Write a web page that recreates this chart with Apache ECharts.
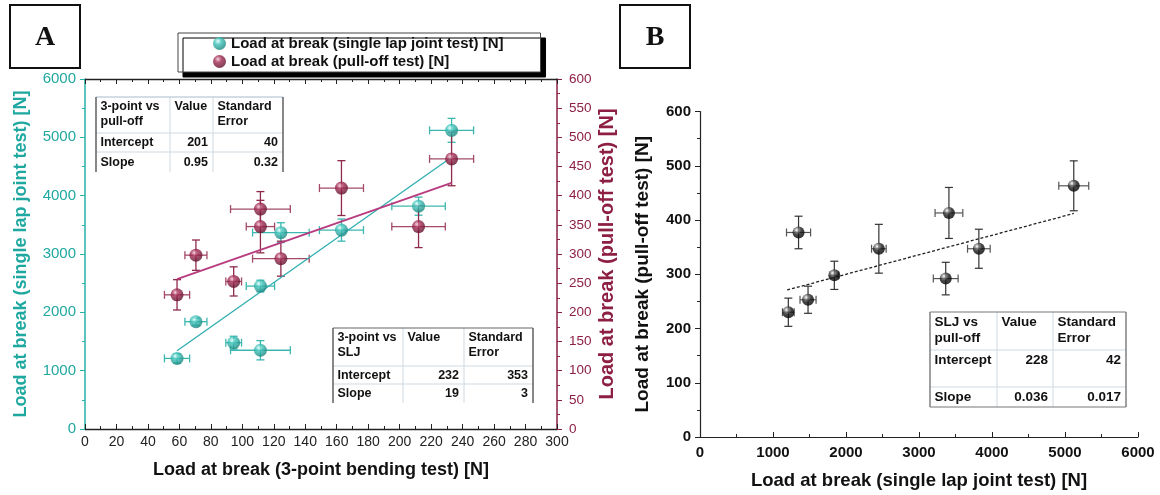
<!DOCTYPE html>
<html><head><meta charset="utf-8">
<script src="https://cdn.jsdelivr.net/npm/echarts@6/dist/echarts.min.js"></script>
<style>html,body{margin:0;padding:0;background:#fff}#c{width:1160px;height:495px}</style>
</head><body><div id="c"></div>
<script>
// ---------- data ----------
const bendingLoad = [58.5, 70.5, 94.5, 111.5, 111.5, 124.5, 163, 212, 233];
const bendingErr  = [8, 7, 5, 19, 9, 18, 14, 17, 14];
const sljLoad     = [1210, 1840, 1480, 1350, 2450, 3366, 3410, 3820, 5120];
const sljErr      = [80, 60, 110, 165, 100, 170, 190, 155, 205];
const pullLoad    = [230, 298, 253, 377, 347, 292, 413, 347, 463];
const pullErr     = [26, 26, 25, 30, 45, 30, 47, 36, 46];
const fitBendSlj  = [[58.5, 1343], [233, 4659]];
const fitBendPull = [[58.5, 257], [233, 422]];
const fitSljPull  = [[1194, 271], [5120, 412]];
const seriesNames = ['Load at break (single lap joint test) [N]', 'Load at break (pull-off test) [N]'];
const axisNames = {
  aX: 'Load at break (3-point bending test) [N]',
  aYL: 'Load at break (single lap joint test) [N]',
  aYR: 'Load at break (pull-off test) [N]',
  bX: 'Load at break (single lap joint test) [N]',
  bY: 'Load at break (pull-off test) [N]'
};
const tableA1 = [['3-point vs\npull-off', 'Value', 'Standard\nError'], ['Intercept', '201', '40'], ['Slope', '0.95', '0.32']];
const tableA2 = [['3-point vs\nSLJ', 'Value', 'Standard\nError'], ['Intercept', '232', '353'], ['Slope', '19', '3']];
const tableB  = [['SLJ vs\npull-off', 'Value', 'Standard\nError'], ['Intercept', '228', '42'], ['Slope', '0.036', '0.017']];
const panelLabels = ['A', 'B'];

// ---------- styling ----------
const FONT = "'Liberation Sans', Arial, sans-serif";
const TEAL = '#27b1a9', TEAL_T = '#1fa8a0', MAROON = '#8c1f42';
const plain = v => String(v);
function ball(light, mid, dark) {
  return {type: 'radial', x: 0.38, y: 0.32, r: 0.72,
    colorStops: [{offset: 0, color: light}, {offset: 0.35, color: mid}, {offset: 1, color: dark}]};
}
function errRender(colV, colH, cap, lw) {
  return function (params, api) {
    const x = api.value(0), y = api.value(1), xe = api.value(2), ye = api.value(3);
    const L = api.coord([x - xe, y]), R = api.coord([x + xe, y]);
    const T = api.coord([x, y + ye]), B = api.coord([x, y - ye]);
    const sH = {stroke: colH, lineWidth: lw}, sV = {stroke: colV, lineWidth: lw};
    return {type: 'group', children: [
      {type: 'line', shape: {x1: L[0], y1: L[1], x2: R[0], y2: R[1]}, style: sH},
      {type: 'line', shape: {x1: L[0], y1: L[1] - cap, x2: L[0], y2: L[1] + cap}, style: sH},
      {type: 'line', shape: {x1: R[0], y1: R[1] - cap, x2: R[0], y2: R[1] + cap}, style: sH},
      {type: 'line', shape: {x1: T[0], y1: T[1], x2: B[0], y2: B[1]}, style: sV},
      {type: 'line', shape: {x1: T[0] - cap, y1: T[1], x2: T[0] + cap, y2: T[1]}, style: sV},
      {type: 'line', shape: {x1: B[0] - cap, y1: B[1], x2: B[0] + cap, y2: B[1]}, style: sV}
    ]};
  };
}
function zipPts(xs, ys, xe, ye) { return xs.map((v, i) => [v, ys[i], xe[i], ye[i]]); }

function makeTable(x, y, colW, rowH, data, o) {
  const els = [];
  const W = colW.reduce((a, b) => a + b, 0), H = rowH.reduce((a, b) => a + b, 0);
  els.push({type: 'rect', shape: {x: x, y: y, width: W, height: H}, style: {fill: '#fff'}, z: 50});
  let cy = y;
  for (let r = 0; r < rowH.length - 1; r++) {
    cy += rowH[r];
    els.push({type: 'line', shape: {x1: x, y1: cy, x2: x + W, y2: cy}, style: {stroke: o.inner, lineWidth: 1}, z: 51});
  }
  let cx = x;
  for (let c = 0; c < colW.length - 1; c++) {
    cx += colW[c];
    els.push({type: 'line', shape: {x1: cx, y1: y, x2: cx, y2: y + H}, style: {stroke: o.inner, lineWidth: 1}, z: 51});
  }
  const sides = o.sides;
  if (sides.top) els.push({type: 'line', shape: {x1: x, y1: y, x2: x + W, y2: y}, style: {stroke: sides.top, lineWidth: 1.2}, z: 52});
  if (sides.bottom) els.push({type: 'line', shape: {x1: x, y1: y + H, x2: x + W, y2: y + H}, style: {stroke: sides.bottom, lineWidth: 1.2}, z: 52});
  if (sides.left) els.push({type: 'line', shape: {x1: x, y1: y, x2: x, y2: y + H}, style: {stroke: sides.left, lineWidth: 1.4}, z: 52});
  if (sides.right) els.push({type: 'line', shape: {x1: x + W, y1: y, x2: x + W, y2: y + H}, style: {stroke: sides.right, lineWidth: 1.4}, z: 52});
  cy = y;
  for (let r = 0; r < data.length; r++) {
    cx = x;
    for (let c = 0; c < data[r].length; c++) {
      const header = r === 0;
      const rightAlign = !header && c > 0;
      const topAligned = header || (o.topRows && o.topRows.indexOf(r) >= 0);
      els.push({type: 'text', z: 53, style: {
        text: data[r][c], x: rightAlign ? cx + colW[c] - 5 : cx + 4.5,
        y: topAligned ? cy + 2 : cy + rowH[r] / 2 + 0.5,
        align: rightAlign ? 'right' : 'left', verticalAlign: topAligned ? 'top' : 'middle',
        font: 'bold ' + o.fs + 'px ' + FONT, lineHeight: o.lh, fill: '#111'}});
      cx += colW[c];
    }
    cy += rowH[r];
  }
  return els;
}

function panelBox(x, y, label) {
  return [
    {type: 'rect', shape: {x: x, y: y, width: 70, height: 63}, style: {fill: '#fff', stroke: '#111', lineWidth: 2}, z: 60},
    {type: 'text', z: 61, style: {text: label, x: x + 35, y: y + 33, align: 'center', verticalAlign: 'middle',
      font: 'bold 28px "Liberation Serif", "Times New Roman", serif', fill: '#111'}}
  ];
}

const chart = echarts.init(document.getElementById('c'), null, {renderer: 'canvas'});
const nameStyle = (c, s) => ({color: c, fontWeight: 'bold', fontSize: s, fontFamily: FONT});

const option = {
  animation: false,
  backgroundColor: '#fff',
  grid: [
    {left: 85, top: 79, width: 472, height: 350},
    {left: 700, top: 111.5, width: 438, height: 326.5}
  ],
  legend: {
    data: seriesNames, left: 178, top: 33, orient: 'vertical',
    itemWidth: 13, itemHeight: 13, itemGap: 3, padding: [3, 37, 3, 35],
    backgroundColor: '#fff', borderColor: '#444', borderWidth: 1,
    shadowColor: '#000', shadowBlur: 0, shadowOffsetX: 5, shadowOffsetY: 5,
    textStyle: {color: '#111', fontWeight: 'bold', fontSize: 15, fontFamily: FONT},
    selectedMode: false
  },
  xAxis: [
    {gridIndex: 0, type: 'value', min: 0, max: 300, interval: 20, position: 'bottom',
      axisLine: {onZero: false, lineStyle: {color: '#222', width: 1.3}},
      axisTick: {inside: true, length: 5, lineStyle: {color: '#222'}},
      minorTick: {show: true, splitNumber: 2, length: 3, lineStyle: {color: '#222'}},
      axisLabel: {color: '#222', fontSize: 14, margin: 6, fontFamily: FONT, formatter: plain},
      splitLine: {show: false},
      name: axisNames.aX, nameLocation: 'middle', nameGap: 32, nameTextStyle: nameStyle('#111', 18)},
    {gridIndex: 0, type: 'value', min: 0, max: 300, interval: 20, position: 'top',
      axisLine: {onZero: false, lineStyle: {color: '#222', width: 1.3}},
      axisTick: {inside: true, length: 5, lineStyle: {color: '#222'}},
      minorTick: {show: true, splitNumber: 2, length: 3, lineStyle: {color: '#222'}},
      axisLabel: {show: false}, splitLine: {show: false}},
    {gridIndex: 1, type: 'value', min: 0, max: 6000, interval: 1000, position: 'bottom',
      axisLine: {onZero: false, lineStyle: {color: '#222', width: 1.2}},
      axisTick: {inside: true, length: 5, lineStyle: {color: '#222'}},
      minorTick: {show: true, splitNumber: 2, length: 3, lineStyle: {color: '#222'}},
      axisLabel: {color: '#111', fontSize: 15, fontWeight: 'bold', margin: 8, fontFamily: FONT, formatter: plain},
      splitLine: {show: false},
      name: axisNames.bX, nameLocation: 'middle', nameGap: 34, nameTextStyle: nameStyle('#111', 18.5)}
  ],
  yAxis: [
    {gridIndex: 0, type: 'value', min: 0, max: 6000, interval: 1000, position: 'left',
      axisLine: {onZero: false, lineStyle: {color: TEAL, width: 1.5}},
      axisTick: {inside: false, length: 5, lineStyle: {color: TEAL}},
      minorTick: {show: true, splitNumber: 2, length: 3, lineStyle: {color: TEAL}},
      axisLabel: {color: TEAL_T, fontSize: 15, margin: 9, fontFamily: FONT, formatter: plain},
      splitLine: {show: false},
      name: axisNames.aYL, nameLocation: 'middle', nameGap: 55, nameTextStyle: nameStyle(TEAL_T, 18)},
    {gridIndex: 0, type: 'value', min: 0, max: 600, interval: 50, position: 'right',
      axisLine: {onZero: false, lineStyle: {color: MAROON, width: 1.5}},
      axisTick: {inside: false, length: 5, lineStyle: {color: MAROON}},
      minorTick: {show: true, splitNumber: 2, length: 3, lineStyle: {color: MAROON}},
      axisLabel: {color: MAROON, fontSize: 13.5, margin: 12, fontFamily: FONT, formatter: plain},
      splitLine: {show: false},
      name: axisNames.aYR, nameLocation: 'middle', nameGap: 40, nameTextStyle: nameStyle(MAROON, 20)},
    {gridIndex: 1, type: 'value', min: 0, max: 600, interval: 100, position: 'left',
      axisLine: {onZero: false, lineStyle: {color: '#222', width: 1.2}},
      axisTick: {inside: false, length: 5, lineStyle: {color: '#222'}},
      minorTick: {show: true, splitNumber: 2, length: 3, lineStyle: {color: '#222'}},
      axisLabel: {color: '#111', fontSize: 15, fontWeight: 'bold', margin: 9, fontFamily: FONT, formatter: plain},
      splitLine: {show: false},
      name: axisNames.bY, nameLocation: 'middle', nameGap: 48, nameTextStyle: nameStyle('#111', 19)}
  ],
  series: [
    {type: 'custom', xAxisIndex: 0, yAxisIndex: 0, z: 1, silent: true, clip: false,
      renderItem: errRender('#3cb7b0', '#3cb7b0', 4, 1.3), encode: {x: 0, y: 1},
      data: zipPts(bendingLoad, sljLoad, bendingErr, sljErr)},
    {type: 'custom', xAxisIndex: 0, yAxisIndex: 1, z: 1, silent: true, clip: false,
      renderItem: errRender('#8e2a4a', '#a24a66', 4, 1.3), encode: {x: 0, y: 1},
      data: zipPts(bendingLoad, pullLoad, bendingErr, pullErr)},
    {type: 'custom', xAxisIndex: 2, yAxisIndex: 2, z: 1, silent: true, clip: false,
      renderItem: errRender('#333', '#555', 4, 1.2), encode: {x: 0, y: 1},
      data: zipPts(sljLoad, pullLoad, sljErr, pullErr)},
    {type: 'line', xAxisIndex: 0, yAxisIndex: 0, z: 2, data: fitBendSlj, showSymbol: false, silent: true,
      lineStyle: {color: '#30aeb0', width: 1.3}},
    {type: 'line', xAxisIndex: 0, yAxisIndex: 1, z: 2, data: fitBendPull, showSymbol: false, silent: true,
      lineStyle: {color: '#b83c80', width: 2}},
    {type: 'line', xAxisIndex: 2, yAxisIndex: 2, z: 2, data: fitSljPull, showSymbol: false, silent: true,
      lineStyle: {color: '#222', width: 1.3, type: [3, 2]}},
    {type: 'scatter', name: seriesNames[0], xAxisIndex: 0, yAxisIndex: 0, z: 3, symbolSize: 13,
      itemStyle: {color: ball('#e6fffd', '#3fc4bb', '#157f78')},
      data: bendingLoad.map((v, i) => [v, sljLoad[i]])},
    {type: 'scatter', name: seriesNames[1], xAxisIndex: 0, yAxisIndex: 1, z: 3, symbolSize: 13,
      itemStyle: {color: ball('#f4c8d6', '#a52d56', '#5a0c26')},
      data: bendingLoad.map((v, i) => [v, pullLoad[i]])},
    {type: 'scatter', name: 'SLJ vs pull-off', xAxisIndex: 2, yAxisIndex: 2, z: 3, symbolSize: 12,
      itemStyle: {color: {type: 'radial', x: 0.35, y: 0.3, r: 0.75,
        colorStops: [{offset: 0, color: '#ffffff'}, {offset: 0.22, color: '#888888'}, {offset: 0.5, color: '#1a1a1a'}, {offset: 1, color: '#000000'}]}},
      data: sljLoad.map((v, i) => [v, pullLoad[i]])}
  ],
  graphic: [].concat(
    panelBox(10, 5, panelLabels[0]),
    panelBox(620, 5, panelLabels[1]),
    makeTable(96, 97, [74, 43, 70], [36, 19, 20], tableA1,
      {inner: '#cfd9e2', sides: {top: '#a9bccc', left: '#555', right: '#555'}, fs: 12.5, lh: 15}),
    makeTable(333, 328, [70, 61, 69], [38, 18, 19], tableA2,
      {inner: '#cfd9e2', sides: {top: '#666', left: '#555', right: '#555'}, fs: 12.5, lh: 15}),
    makeTable(930, 312, [67, 56, 73], [38, 37, 20], tableB,
      {inner: '#cfd9e2', sides: {top: '#777', bottom: '#777', left: '#777', right: '#777'}, fs: 13.5, lh: 16, topRows: [1]})
  )
};
chart.setOption(option);
</script>
</body></html>
